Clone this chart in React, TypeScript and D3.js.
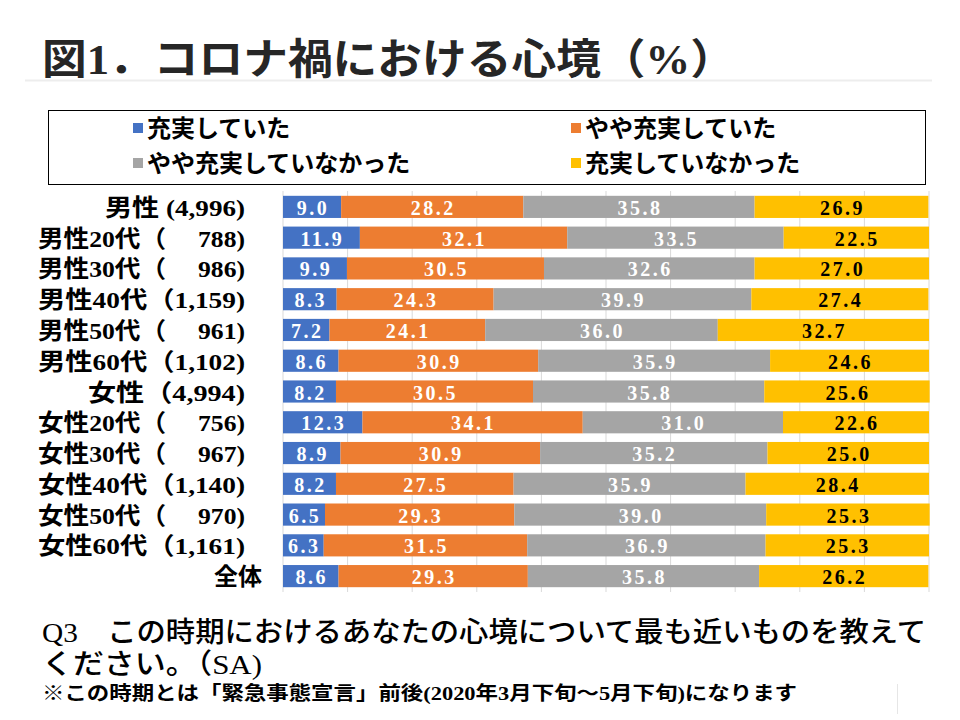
import React from "react";
import * as d3 from "d3";

const categories = [
  "男性 (4,996)",
  "男性20代（\u3000 788)",
  "男性30代（\u3000 986)",
  "男性40代（1,159)",
  "男性50代（\u3000 961)",
  "男性60代（1,102)",
  "女性（4,994)",
  "女性20代（\u3000 756)",
  "女性30代（\u3000 967)",
  "女性40代（1,140)",
  "女性50代（\u3000 970)",
  "女性60代（1,161)",
  "全体",
];

const seriesNames = ["充実していた", "やや充実していた", "やや充実していなかった", "充実していなかった"];

const juujitsu = [9.0, 11.9, 9.9, 8.3, 7.2, 8.6, 8.2, 12.3, 8.9, 8.2, 6.5, 6.3, 8.6];
const yayaJuujitsu = [28.2, 32.1, 30.5, 24.3, 24.1, 30.9, 30.5, 34.1, 30.9, 27.5, 29.3, 31.5, 29.3];
const yayaNot = [35.8, 33.5, 32.6, 39.9, 36.0, 35.9, 35.8, 31.0, 35.2, 35.9, 39.0, 36.9, 35.8];
const notJuujitsu = [26.9, 22.5, 27.0, 27.4, 32.7, 24.6, 25.6, 22.6, 25.0, 28.4, 25.3, 25.3, 26.2];

const seriesValues = [juujitsu, yayaJuujitsu, yayaNot, notJuujitsu];
const colors = ["#4472C4", "#ED7D31", "#A5A5A5", "#FFC000"];
const labelColors = ["#FFFFFF", "#FFFFFF", "#FFFFFF", "#000000"];
const gridTicks = [0, 10, 20, 30, 40, 50, 60, 70, 80, 90, 100];

const serif = "'Liberation Serif', 'Noto Sans CJK JP', serif";
const cjk = "'Noto Sans CJK JP', 'Liberation Serif', serif";

function labelWidth(c: string): number | undefined {
  if (c === "全体") return undefined;
  if (c.includes("代")) return 207;
  if (c.startsWith("女性")) return 157;
  return 140;
}

export default function App() {
  const x = d3.scaleLinear().domain([0, 100]).range([283, 929]);
  const y = d3.scaleBand<string>().domain(categories).range([191.5, 591.5]).paddingInner(0.28).paddingOuter(0.14);

  const rows = categories.map((c, i) => {
    const vals = seriesValues.map((s) => s[i]);
    let acc = 0;
    return vals.map((v, k) => {
      const seg = { cat: c, k, v, x0: acc, x1: acc + v };
      acc += v;
      return seg;
    });
  });

  return (
    <svg width={960} height={720} style={{ position: "absolute", left: 0, top: 0, background: "#fff" }} fontFamily={cjk}>
      <rect x={0} y={0} width={960} height={720} fill="#fff" />
      {/* Title */}
      <text x={42} y={74} fontSize={42} fontWeight={700} fill="#262626" fontFamily={serif} textLength={693} lengthAdjust="spacingAndGlyphs">
        図1．コロナ禍における心境（%）
      </text>
      <line x1={25} x2={932} y1={80.5} y2={80.5} stroke="#EDEDED" strokeWidth={2} />

      {/* Legend */}
      <rect x={48.5} y={110.5} width={877} height={74} fill="none" stroke="#000" strokeWidth={1} />
      {seriesNames.map((n, k) => {
        const lx = k % 2 === 0 ? 133 : 571;
        const ly = k < 2 ? 128 : 163;
        return (
          <g key={n}>
            <rect x={lx} y={ly - 5} width={10} height={10} fill={colors[k]} />
            <text x={lx + 14} y={ly + 9} fontSize={24} fontWeight={700} fill="#000">
              {n}
            </text>
          </g>
        );
      })}

      {/* Gridlines */}
      {gridTicks.map((t) => (
        <line key={t} x1={x(t)} x2={x(t)} y1={191} y2={592} stroke="#D9D9D9" strokeWidth={1} />
      ))}

      {/* Bars */}
      {rows.map((segs, i) => (
        <g key={categories[i]}>
          {segs.map((s) => (
            <rect
              key={s.k}
              x={x(s.x0)}
              y={y(s.cat)}
              width={x(s.x1) - x(s.x0)}
              height={y.bandwidth()}
              fill={colors[s.k]}
            />
          ))}
          {segs.map((s) => (
            <text
              key={"t" + s.k}
              x={(x(s.x0) + x(s.x1)) / 2 + 1}
              y={(y(s.cat) as number) + y.bandwidth() / 2 + 8}
              textAnchor="middle"
              fontSize={20}
              fontWeight={700}
              letterSpacing={2.5}
              fill={labelColors[s.k]}
              fontFamily={serif}
            >
              {s.v.toFixed(1)}
            </text>
          ))}
        </g>
      ))}

      {/* Category labels */}
      {categories.map((c) => (
        <text
          key={c}
          x={c === "全体" ? 262 : 245}
          y={(y(c) as number) + y.bandwidth() / 2 + 9}
          textAnchor="end"
          fontSize={24}
          fontWeight={700}
          fill="#000"
          fontFamily={serif}
          textLength={labelWidth(c)}
          lengthAdjust="spacingAndGlyphs"
          style={{ whiteSpace: "pre" }}
        >
          {c}
        </text>
      ))}

      {/* Footer */}
      <text x={42} y={642} fontSize={28} fontWeight={500} fill="#000" fontFamily={serif} textLength={884} lengthAdjust="spacingAndGlyphs">
        Q3{"\u3000"}この時期におけるあなたの心境について最も近いものを教えて
      </text>
      <text x={42} y={674} fontSize={28} fontWeight={500} fill="#000" fontFamily={serif} textLength={220} lengthAdjust="spacingAndGlyphs">
        ください。（SA)
      </text>
      <text x={42} y={700} fontSize={19} fontWeight={700} fill="#000" fontFamily={serif} textLength={755} lengthAdjust="spacingAndGlyphs">
        ※この時期とは「緊急事態宣言」前後(2020年3月下旬～5月下旬)になります
      </text>
      <line x1={897.5} x2={897.5} y1={684} y2={714} stroke="#E6E6E6" strokeWidth={1} />
    </svg>
  );
}
